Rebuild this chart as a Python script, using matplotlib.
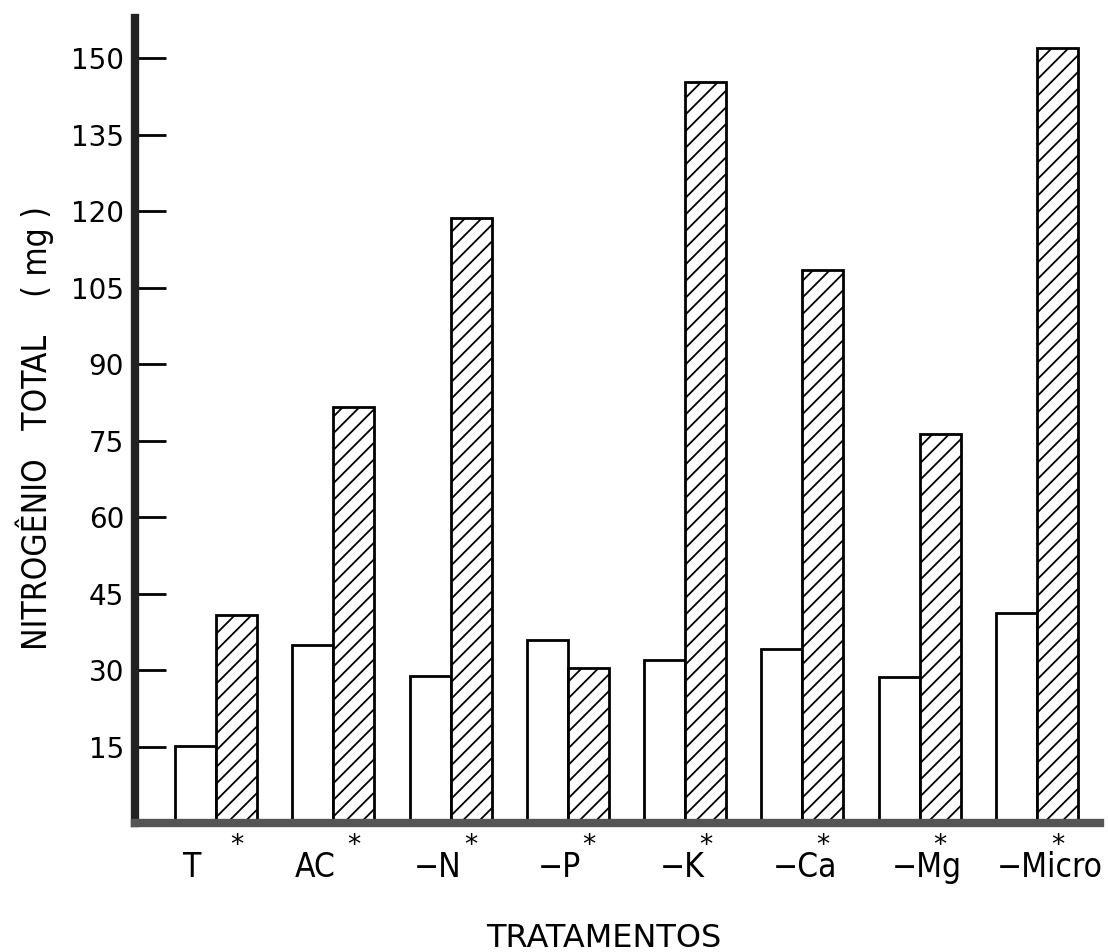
import numpy as np
import matplotlib
matplotlib.use('Agg')
import matplotlib.pyplot as plt

plt.rcParams.update({
    'font.family': 'DejaVu Sans',
    'hatch.linewidth': 1.3,
})

# ── dados ───────────────────────────────────────────────────────────────────
tratamentos = ['T', 'AC', '\u2212N', '\u2212P', '\u2212K', '\u2212Ca', '\u2212Mg', '\u2212Micro']
sem_inoc = [15.1, 35.0, 28.9, 35.9, 32.0, 34.2, 28.7, 41.2]      # barras brancas
com_inoc = [40.8, 81.7, 118.6, 30.4, 145.3, 108.4, 76.4, 152.0]  # barras hachuradas
yticks = [15, 30, 45, 60, 75, 90, 105, 120, 135, 150]

x = np.arange(len(tratamentos))
w = 0.35

fig = plt.figure(figsize=(11.08, 9.52), dpi=100)
ax = fig.add_axes([0.122, 0.1355, 0.871, 0.846])

ax.bar(x - w / 2, sem_inoc, width=w, facecolor='white', edgecolor='black', linewidth=2)
ax.bar(x + w / 2, com_inoc, width=w, facecolor='white', edgecolor='black', linewidth=2,
       hatch='//')

ax.set_xlim(-0.69, 7.54)
ax.set_ylim(0, 158)

# eixos grossos
for s in ['top', 'right']:
    ax.spines[s].set_visible(False)
ax.spines['left'].set_linewidth(6)
ax.spines['left'].set_color('#222222')
ax.spines['bottom'].set_linewidth(6)
ax.spines['bottom'].set_color('#555555')

ax.set_yticks(yticks)
ax.set_yticklabels([str(v) for v in yticks], fontsize=20)
ax.tick_params(axis='y', direction='in', length=22, width=2, pad=8)
ax.tick_params(axis='x', length=0, pad=20)

# rótulos um pouco deslocados para a esquerda, como no original
ax.set_xticks(x * 1.044 - 0.2)
ax.set_xticklabels(tratamentos, fontsize=24, fontstretch='condensed')

# asteriscos sob as barras hachuradas
for xi in x:
    ax.text(xi + w / 2, -4.6, '*', ha='center', va='center', fontsize=19)

ax.set_ylabel('NITROGÊNIO   TOTAL    ( mg )', fontsize=24, fontstretch='condensed',
              va='center')
ax.yaxis.set_label_coords(-0.104, 0.49)
ax.set_xlabel('TRATAMENTOS', fontsize=23, va='center')
ax.xaxis.set_label_coords(0.486, -0.143)

fig.savefig('out.png', dpi=100)
